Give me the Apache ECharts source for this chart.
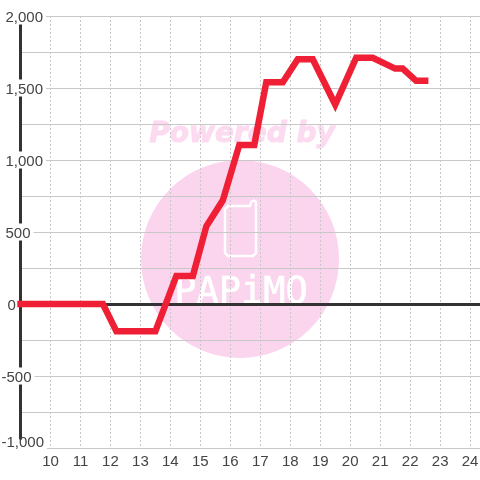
<!DOCTYPE html>
<html>
<head>
<meta charset="utf-8">
<style>
  html, body { margin: 0; padding: 0; background: #fff; }
  #main { width: 480px; height: 480px; }
</style>
<script src="https://cdn.jsdelivr.net/npm/echarts@6/dist/echarts.min.js"></script>
</head>
<body>
<div id="main"></div>
<script>
// 折线数据
var hours = [9, 10, 11, 11.75, 12.2, 12.75, 13.5, 14.2, 14.75, 15.2, 15.75, 16.3, 16.8, 17.2, 17.75, 18.25, 18.75, 19.5, 20.2, 20.75, 21.5, 21.75, 22.2, 22.5];
var values = [0, 0, 0, 0, -190, -190, -190, 195, 195, 540, 720, 1105, 1105, 1540, 1540, 1700, 1700, 1385, 1710, 1710, 1635, 1635, 1550, 1550];

var yMin = -1000;
var yMax = 2000;
var yStep = 250;
var xMin = 9;
var xMax = 24.33;

var fontName = '"Liberation Sans", Arial, sans-serif';
var textColor = '#444';
var pink = '#fbd5ee';

function yLabel(v) {
  if (v % 500 !== 0) return '';
  var s = echarts.format.addCommas(v);
  if (v === yMin) return '{low|' + s + '}';
  if (v < 0) return '{neg|' + s + '}';
  if (v === 0) return '{zero|' + s + '}';
  return '{pos|' + s + '}';
}

var richBase = { fontSize: 15, fontFamily: fontName, color: textColor };

var myChart = echarts.init(document.getElementById('main'), null, { renderer: 'canvas' });
var option = {
  animation: false,
  backgroundColor: '#fff',
  grid: { left: 20.5, right: 0, top: 16, bottom: 32, outerBoundsMode: 'none' },
  graphic: [
    { type: 'circle', z: -1, shape: { cx: 240, cy: 259, r: 99 }, style: { fill: pink } },
    { type: 'text', z: -1, x: 242, y: 135, style: {
        text: 'Powered by', fill: '#fcdaf0', stroke: '#fcdaf0', lineWidth: 1, align: 'center', verticalAlign: 'middle',
        font: 'italic bold 28px "DejaVu Sans"' } },
    // 手机图标
    { type: 'polygon', z: -1,
      shape: { points: [[228, 206], [250, 206], [251, 202], [254, 200.5], [256, 202], [256, 253], [253, 256], [228, 256], [225, 253], [225, 209]] },
      style: { fill: 'none', stroke: '#fff', lineWidth: 2.5 } },
    { type: 'text', z: -1, x: 241, y: 293, style: {
        text: 'PAPiMO', fill: '#fff', stroke: '#fff', lineWidth: 0.6, align: 'center', verticalAlign: 'middle',
        font: '37px "DejaVu Sans Mono"' } }
  ],
  xAxis: [
    {
      type: 'value',
      min: xMin,
      max: xMax,
      interval: 1,
      position: 'bottom',
      axisLine: { show: false, onZero: false },
      axisTick: { show: false },
      axisLabel: {
        margin: 6,
        fontSize: 15,
        fontFamily: fontName,
        color: textColor,
        showMinLabel: false,
        showMaxLabel: false,
        formatter: function (v) { return v === Math.floor(v) ? String(v) : ''; }
      },
      splitLine: { show: true, lineStyle: { color: '#c8c8c8', width: 1, type: [2, 2] } }
    },
    {
      // 零线
      type: 'value',
      min: xMin,
      max: xMax,
      interval: 1,
      axisLine: { show: true, onZero: true, lineStyle: { color: '#333', width: 3 } },
      axisTick: { show: false },
      axisLabel: { show: false },
      splitLine: { show: false }
    }
  ],
  yAxis: {
    type: 'value',
    min: yMin,
    max: yMax,
    interval: yStep,
    axisLine: { show: true, onZero: false, lineStyle: { color: '#333', width: 3 } },
    axisTick: { show: false },
    axisLabel: {
      align: 'left',
      margin: 22,
      padding: [1, 3, 0, 3],
      lineHeight: 16,
      backgroundColor: '#fff',
      formatter: yLabel,
      rich: {
        pos: Object.assign({ padding: [2, 0, 0, 4] }, richBase),
        zero: Object.assign({ padding: [2, 0, 0, 6] }, richBase),
        neg: Object.assign({ padding: [2, 0, 0, 0] }, richBase),
        low: Object.assign({ padding: [0, 0, 12, 0] }, richBase)
      }
    },
    splitLine: { show: true, lineStyle: { color: '#c8c8c8', width: 1 } }
  },
  series: [
    {
      type: 'line',
      xAxisIndex: 0,
      data: hours.map(function (h, i) { return [h, values[i]]; }),
      symbol: 'none',
      clip: false,
      z: 5,
      lineStyle: { color: '#ef2036', width: 6.5, cap: 'square', join: 'miter' }
    }
  ]
};
myChart.setOption(option);
</script>
</body>
</html>
